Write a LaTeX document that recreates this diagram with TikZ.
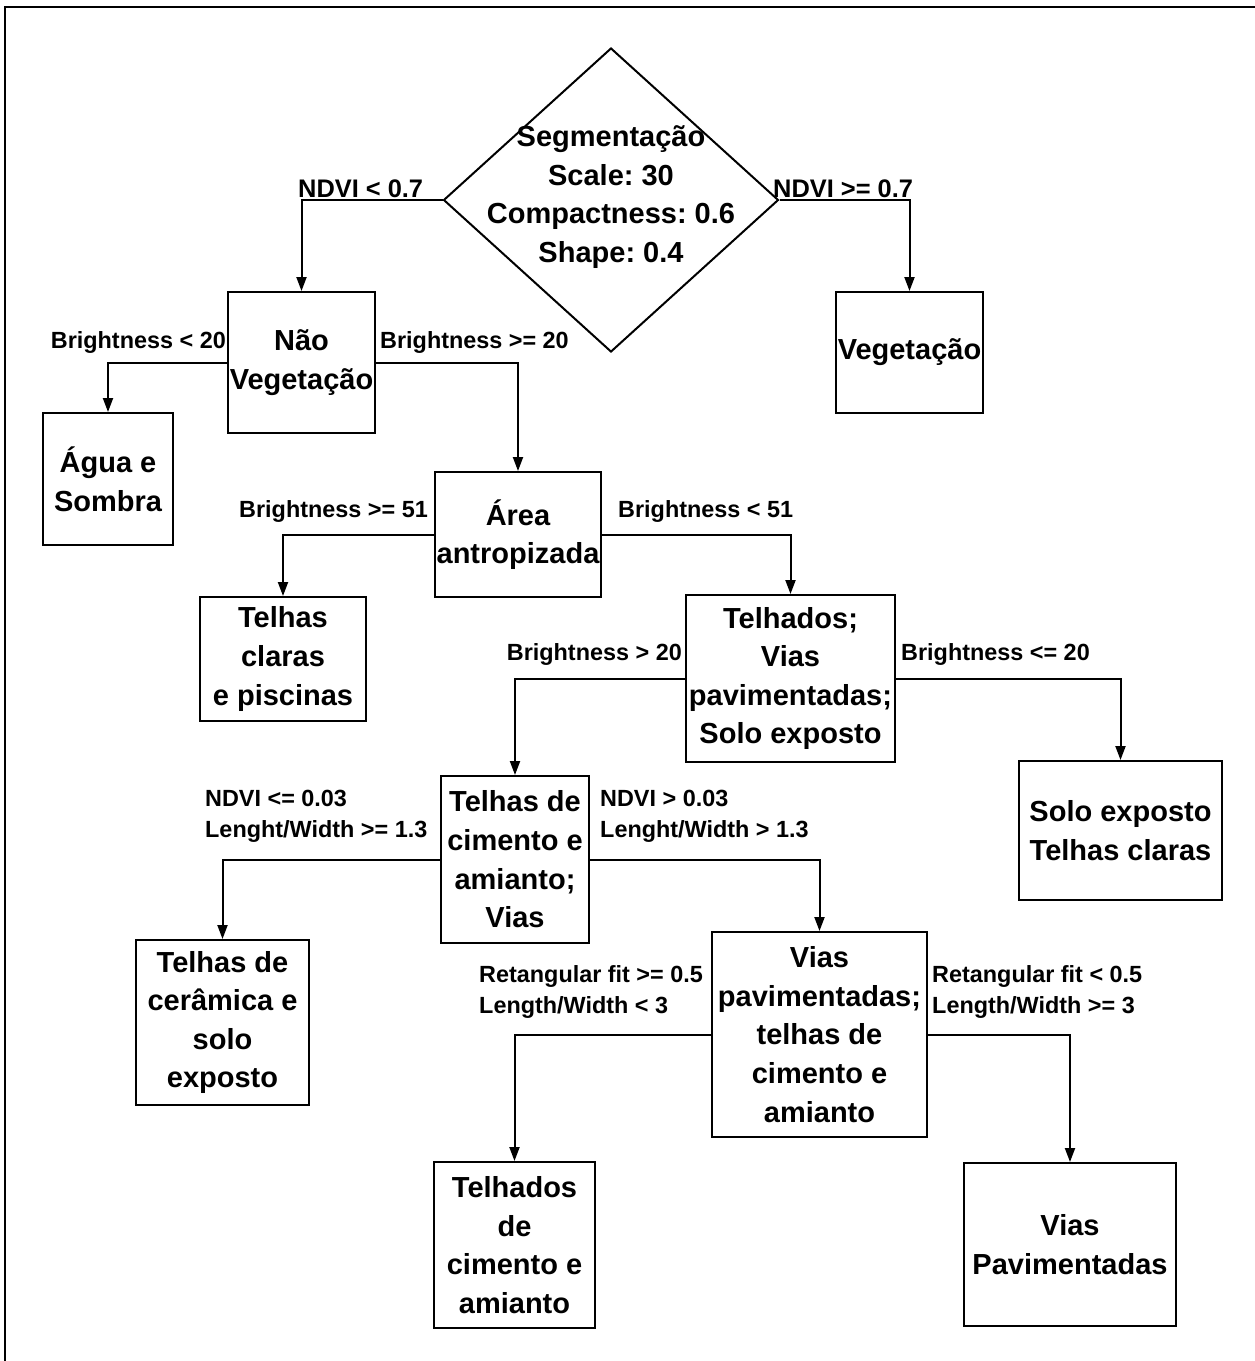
\documentclass[tikz,border=0pt]{standalone}
\usepackage{fontspec}
\setmainfont{Liberation Sans}
\usetikzlibrary{shapes.geometric,arrows.meta}
\frenchspacing
\begin{document}
\begin{tikzpicture}[x=1pt,y=-1pt,
  box/.style={draw,line width=2pt,rectangle,inner sep=0pt,align=center,
    font=\fontsize{29}{38.6}\selectfont\bfseries},
  lbl/.style={inner sep=0pt,align=left,font=\fontsize{23.4}{31}\selectfont\bfseries},
  toplbl/.style={lbl,font=\fontsize{25.4}{31}\selectfont\bfseries},
  conn/.style={line width=2pt,-{Triangle[length=14pt,width=10pt]}}]
\useasboundingbox (0,0) rectangle (1255,1361);
\draw[line width=2pt] (5,1361) |- (1255,7);

% decision diamond
\node[diamond,draw,line width=2pt,minimum width=335,minimum height=304,inner sep=0pt] (seg) at (611,200) {};
\node[box,draw=none] (segtext) at (611,197) {Segmentação\\Scale: 30\\Compactness: 0.6\\Shape: 0.4};

% boxes
\node[box,minimum width=147,minimum height=141] (nv) at (301.5,362.5) {Não\\Vegetação};
\node[box,minimum width=147,minimum height=121] (veg) at (909.5,352.5) {Vegetação};
\node[box,minimum width=130,minimum height=132] (agua) at (108,479) {Água e\\Sombra};
\node[box,minimum width=166,minimum height=125] (area) at (518,534.5) {Área\\antropizada};
\node[box,minimum width=166,minimum height=124] (tclaras) at (283,659) {Telhas\\claras\\e piscinas};
\node[box,minimum width=209,minimum height=167] (telhados) at (790.5,678.5) {Telhados;\\Vias\\pavimentadas;\\Solo exposto};
\node[box,minimum width=203,minimum height=139] (solo) at (1120.5,830.5) {Solo exposto\\Telhas claras};
\node[box,minimum width=148,minimum height=167] (tcim) at (515,859.5) {Telhas de\\cimento e\\amianto;\\Vias};
\node[box,minimum width=173,minimum height=165] (ceram) at (222.5,1022.5) {Telhas de\\cerâmica e\\solo\\exposto};
\node[box,minimum width=215,minimum height=205] (viaspav) at (819.5,1034.5) {Vias\\pavimentadas;\\telhas de\\cimento e\\amianto};
\node[box,minimum width=161,minimum height=166] (tcim2) at (514.5,1245) {Telhados\\de\\cimento e\\amianto};
\node[box,minimum width=212,minimum height=163] (viasP) at (1070,1244.5) {Vias\\Pavimentadas};

% connectors
\draw[conn] (seg.west) -| (nv.north);
\draw[conn] (seg.east) -| (veg.north);
\draw[conn] (nv.west) -| (agua.north);
\draw[conn] (nv.east) -| (area.north);
\draw[conn] (area.west) -| (tclaras.north);
\draw[conn] (area.east) -| (telhados.north);
\draw[conn] (telhados.west) -| (tcim.north);
\draw[conn] (telhados.east) -| (solo.north);
\draw[conn] (tcim.west) -| (ceram.north);
\draw[conn] (tcim.east) -| (viaspav.north);
\draw[conn] (viaspav.west) -| (tcim2.north);
\draw[conn] (viaspav.east) -| (viasP.north);

% labels
\node[toplbl,anchor=base west] (l1) at (298,197) {NDVI < 0.7};
\node[toplbl,anchor=base west] (l2) at (773,197) {NDVI >= 0.7};
\node[lbl,anchor=base east] (l3) at (226,348) {Brightness < 20};
\node[lbl,anchor=base west] (l4) at (380,348) {Brightness >= 20};
\node[lbl,anchor=base east] (l5) at (428,517) {Brightness >= 51};
\node[lbl,anchor=base west] (l6) at (618,517) {Brightness < 51};
\node[lbl,anchor=base east] (l7) at (682,660) {Brightness > 20};
\node[lbl,anchor=base west] (l8) at (901,660) {Brightness <= 20};
\node[lbl,anchor=west] (l9) at (205,816) {NDVI <= 0.03\\Lenght/Width >= 1.3};
\node[lbl,anchor=west] (l10) at (600,816) {NDVI > 0.03\\Lenght/Width > 1.3};
\node[lbl,anchor=west] (l11) at (479,992) {Retangular fit >= 0.5\\Length/Width < 3};
\node[lbl,anchor=west] (l12) at (932,992) {Retangular fit < 0.5\\Length/Width >= 3};
\end{tikzpicture}
\end{document}
